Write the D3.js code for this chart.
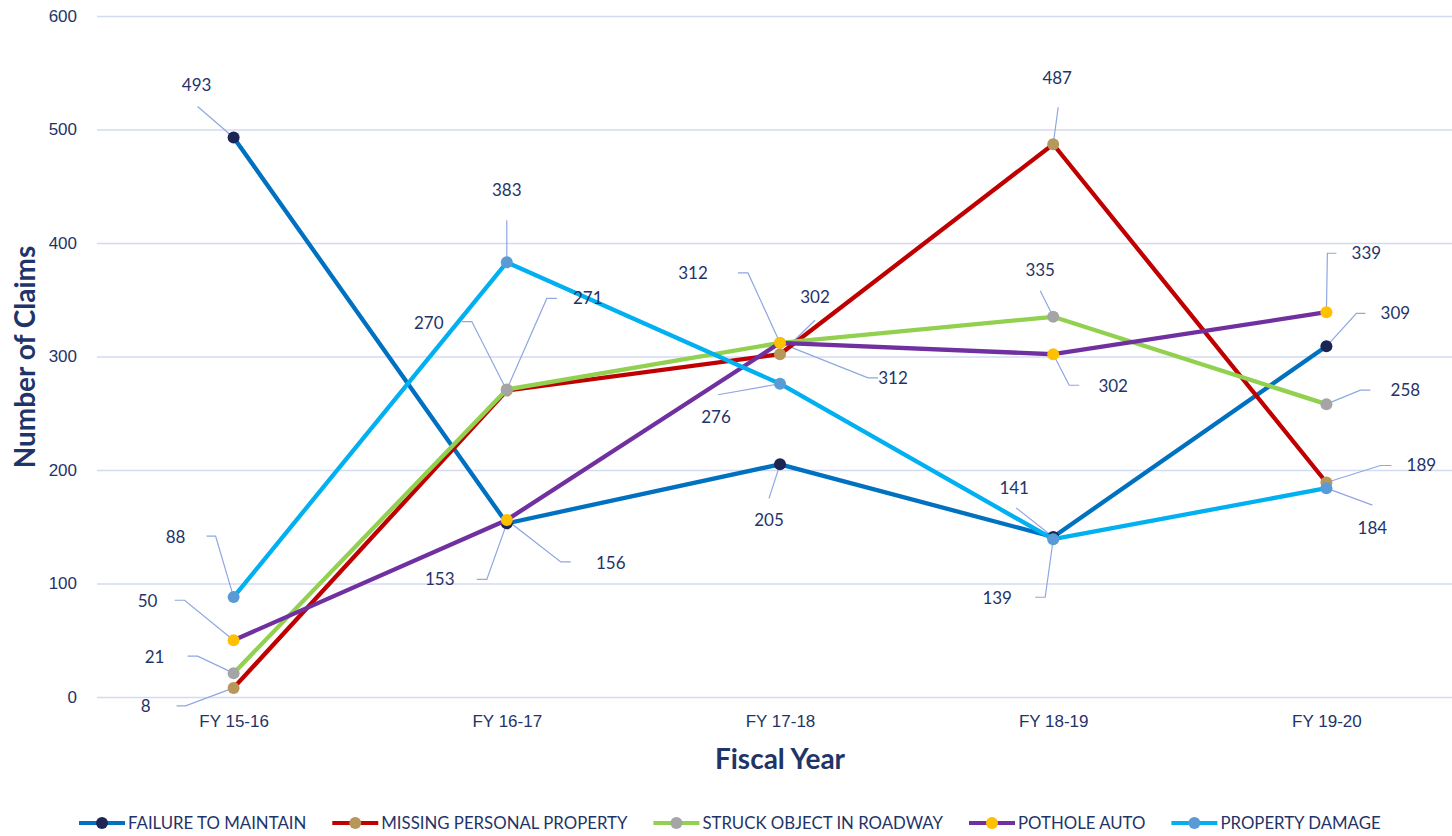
<!DOCTYPE html>
<html>
<head>
<meta charset="utf-8">
<script src="https://cdn.jsdelivr.net/npm/d3@7"></script>
<style>
  html, body { margin: 0; padding: 0; background: #fff; }
  #chart { width: 1452px; height: 836px; }
  svg { font-family: Lato, "Open Sans", sans-serif; }
</style>
</head>
<body>
<div id="chart"></div>
<script>
var App = App || {};

// chart data
const years = ["FY 15-16", "FY 16-17", "FY 17-18", "FY 18-19", "FY 19-20"];
const seriesNames = ["FAILURE TO MAINTAIN", "MISSING PERSONAL PROPERTY", "STRUCK OBJECT IN ROADWAY", "POTHOLE AUTO", "PROPERTY DAMAGE"];
const failureToMaintain = [493, 153, 205, 141, 309];
const missingPersonalProperty = [8, 270, 302, 487, 189];
const struckObject = [21, 271, 312, 335, 258];
const potholeAuto = [50, 156, 312, 302, 339];
const propertyDamage = [88, 383, 276, 139, 184];
const yTicks = [0, 100, 200, 300, 400, 500, 600];

// label placement, offsets from each point: [labelDx, labelDy, leader points...]
const labelLayout = [
  [[-37, -52, [-36, -31]], [-67, 56, [-30, 56], [-20, 56]], [-11, 56, [-11, 34]], [-39, -49, [-37, -29]], [69, -33, [39, -33], [30, -33]]],
  [[-88, 18, [-57, 18], [-48, 18]], [-78, -68, [-45, -69], [-35, -69]], [35, -57, [35, -34]], [4, -66, [5, -37]], [95, -17, [65, -17], [54, -17]]],
  [[-79, -16, [-46, -17], [-36, -17]], [81, -91, [50, -91], [40, -91]], [113, 35, [98, 35], [88, 35]], [-13, -47, [-13, -26]], [79, -14, [44, -14], [34, -14]]],
  [[-86, -39, [-59, -40], [-49, -40]], [104, 43, [64, 42], [54, 42]], [-87, -70, [-42, -70], [-32, -70]], [60, 32, [26, 31], [16, 31]], [40, -59, [10, -59], [1, -59]]],
  [[-58, -60, [-27, -61], [-18, -61]], [0, -72, [0, -42]], [-64, 33, [-62, 11]], [-56, 59, [-18, 58], [-8, 58]], [46, 40, [46, 17]]]
];

const lineColors = ["#0070C0", "#C00000", "#92D050", "#7030A0", "#00B0F0"];
const markerColors = ["#1B2654", "#B8975A", "#A5A5A5", "#FFC000", "#5B9BD5"];

(function() {
  const textColor = "#1F3468",
    gridColor = "#D3DBF1",
    leaderColor = "#8EA7E0";

  App.init = function() {
    let width = 1452, height = 836;

    let series = [failureToMaintain, missingPersonalProperty, struckObject, potholeAuto, propertyDamage]
      .map(function(values, i) {
        return { name: seriesNames[i], values: values, line: lineColors[i], marker: markerColors[i], labels: labelLayout[i] };
      });

    App.SVG = d3.select("#chart").append("svg")
      .attr("width", width)
      .attr("height", height);

    let x = d3.scalePoint()
      .domain(years)
      .range([97, 1463])
      .padding(0.5);

    let y = d3.scaleLinear()
      .domain([0, 600])
      .range([697, 16]);

    // gridlines + y labels
    let yAxis = d3.axisLeft(y)
      .tickValues(yTicks)
      .tickSize(-(width - 97))
      .tickPadding(20);

    let yG = App.SVG.append("g")
      .attr("transform", "translate(97,0)")
      .call(yAxis);
    yG.select(".domain").remove();
    yG.selectAll(".tick line").attr("stroke", gridColor).attr("stroke-width", 1.3);
    yG.selectAll(".tick text")
      .attr("fill", textColor)
      .style("font-size", "17px");

    let xAxis = d3.axisBottom(x).tickSize(0).tickPadding(18);
    let xG = App.SVG.append("g")
      .attr("transform", "translate(0,697)")
      .call(xAxis);
    xG.select(".domain").remove();
    xG.selectAll(".tick text")
      .attr("fill", textColor)
      .style("font-size", "17px");

    // axis titles
    App.SVG.append("text")
      .attr("transform", "translate(35,357) rotate(-90)")
      .attr("text-anchor", "middle")
      .attr("fill", textColor)
      .style("font-size", "28px")
      .style("font-weight", "bold")
      .text("Number of Claims");

    App.SVG.append("text")
      .attr("x", 780)
      .attr("y", 769)
      .attr("text-anchor", "middle")
      .attr("fill", textColor)
      .style("font-size", "28px")
      .style("font-weight", "bold")
      .text("Fiscal Year");

    let line = d3.line()
      .x(function(d, i) { return x(years[i]); })
      .y(function(d) { return y(d); });

    // leader lines under everything
    let leaderG = App.SVG.append("g");
    series.forEach(function(s) {
      s.values.forEach(function(v, i) {
        let px = x(years[i]), py = y(v);
        let pts = s.labels[i].slice(2).map(function(o) { return [px + o[0], py + o[1]]; });
        pts.push([px, py]);
        leaderG.append("path")
          .attr("d", d3.line()(pts))
          .attr("fill", "none")
          .attr("stroke", leaderColor)
          .attr("stroke-width", 1.2);
      });
    });

    let seriesG = App.SVG.selectAll(".series")
      .data(series)
      .enter().append("g")
      .attr("class", "series");

    seriesG.append("path")
      .attr("d", function(d) { return line(d.values); })
      .attr("fill", "none")
      .attr("stroke", function(d) { return d.line; })
      .attr("stroke-width", 4.3)
      .attr("stroke-linejoin", "round");

    seriesG.selectAll("circle")
      .data(function(d) { return d.values.map(function(v) { return { v: v, c: d.marker }; }); })
      .enter().append("circle")
      .attr("cx", function(d, i) { return x(years[i]); })
      .attr("cy", function(d) { return y(d.v); })
      .attr("r", 6)
      .attr("fill", function(d) { return d.c; });

    // data labels
    let labelG = App.SVG.append("g");
    series.forEach(function(s) {
      s.values.forEach(function(v, i) {
        labelG.append("text")
          .attr("x", x(years[i]) + s.labels[i][0])
          .attr("y", y(v) + s.labels[i][1])
          .attr("dy", "0.35em")
          .attr("text-anchor", "middle")
          .attr("fill", textColor)
          .style("font-size", "17px")
          .text(v);
      });
    });

    createLegend(series);
  };

  function createLegend(series) {
    let legendG = App.SVG.append("g")
      .attr("transform", "translate(79,823)");

    let cursor = 0;
    series.forEach(function(s) {
      let item = legendG.append("g").attr("transform", "translate(" + cursor + ",0)");
      item.append("line")
        .attr("x1", 0).attr("x2", 46)
        .attr("stroke", s.line)
        .attr("stroke-width", 4);
      item.append("circle")
        .attr("cx", 23)
        .attr("r", 6)
        .attr("fill", s.marker);
      let t = item.append("text")
        .attr("x", 49)
        .attr("dy", "0.35em")
        .attr("fill", textColor)
        .style("font-size", "16.8px")
        .text(s.name);
      cursor += 49 + t.node().getComputedTextLength() + 26;
    });
  }

})();

App.init();
</script>
</body>
</html>
